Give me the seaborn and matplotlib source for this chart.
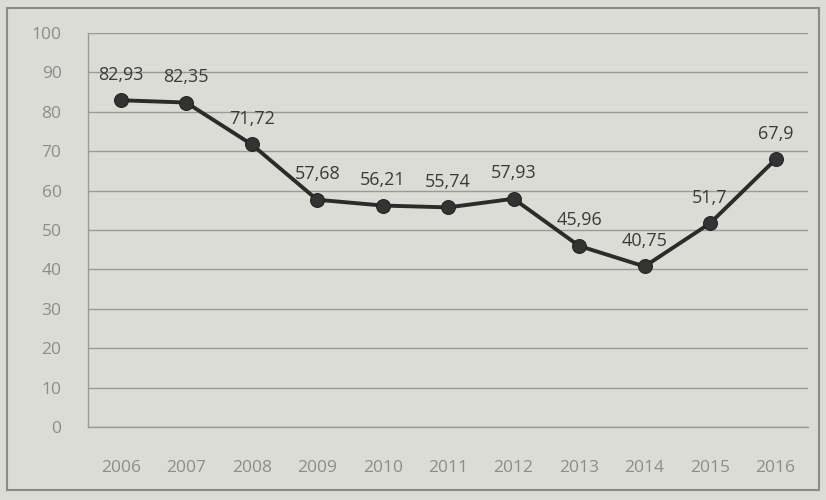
import numpy as np
import pandas as pd
import matplotlib
matplotlib.use('Agg')
import matplotlib.pyplot as plt
import seaborn as sns

# dados do gráfico
anos = ['2006', '2007', '2008', '2009', '2010', '2011', '2012', '2013', '2014', '2015', '2016']
valores = [82.93, 82.35, 71.72, 57.68, 56.21, 55.74, 57.93, 45.96, 40.75, 51.7, 67.9]
rotulos = ['82,93', '82,35', '71,72', '57,68', '56,21', '55,74', '57,93', '45,96', '40,75', '51,7', '67,9']

df = pd.DataFrame({'pos': np.arange(len(anos)), 'valor': valores})

sns.set_style('white')
plt.rcParams['font.family'] = ['Open Sans', 'DejaVu Sans']

bg = '#dcdcd6'
fig = plt.figure(figsize=(8.26, 5), dpi=100, facecolor=bg)
ax = fig.add_axes([0.1065, 0.146, 0.872, 0.788])
ax.set_facecolor(bg)

sns.lineplot(data=df, x='pos', y='valor', ax=ax, color='#2b2b2b', linewidth=2.8,
             marker='o', markersize=10, markerfacecolor='#333333', markeredgecolor='#222222')

for i, (v, r) in enumerate(zip(valores, rotulos)):
    ax.annotate(r, (i, v), xytext=(0, 12), textcoords='offset points',
                ha='center', va='bottom', fontsize=13, color='#3a3a3a')

ax.set_xlim(-0.5, len(anos) - 0.5)
ax.set_ylim(0, 100)
ax.set_yticks(range(0, 101, 10))
ax.set_xticks(np.arange(len(anos)))
ax.set_xticklabels(anos)
ax.set_xticks(np.arange(-0.5, len(anos), 1), minor=True)
ax.grid(axis='y', color='#9a9a96', linewidth=1.0)
ax.grid(axis='x', visible=False)
ax.tick_params(axis='x', which='major', length=0, pad=24, labelsize=12.5, labelcolor='#8c8c8c')
ax.tick_params(axis='x', which='minor', length=5, color='#9a9a96', direction='out')
ax.tick_params(axis='y', length=5, color='#9a9a96', labelsize=12.5, labelcolor='#8c8c8c', pad=14)
ax.set_xlabel('')
ax.set_ylabel('')
for s in ['top', 'right']:
    ax.spines[s].set_visible(False)
for s in ['left', 'bottom']:
    ax.spines[s].set_color('#9a9a96')
    ax.spines[s].set_linewidth(1.0)

# moldura externa
fig.patches.append(plt.Rectangle((0.008, 0.02), 0.984, 0.965, transform=fig.transFigure,
                                 fill=False, edgecolor='#8a8a86', linewidth=1.5))

fig.savefig('out.png', dpi=100, facecolor=bg)
